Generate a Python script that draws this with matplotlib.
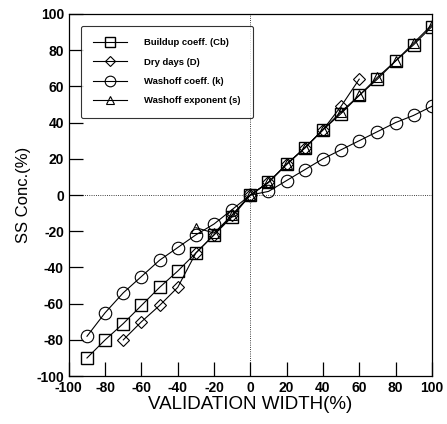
import numpy as np
import matplotlib
matplotlib.use("Agg")
import matplotlib.pyplot as plt

plt.rcParams['font.family'] = ['Liberation Sans', 'DejaVu Sans']
plt.rcParams['axes.unicode_minus'] = False

# data
x_full = [-90, -80, -70, -60, -50, -40, -30, -20, -10, 0, 10, 20, 30, 40, 50, 60, 70, 80, 90, 100]
cb = [-90, -80, -71, -61, -51, -42, -32, -22, -12, 0, 7, 17, 26, 36, 45, 55, 64, 74, 83, 93]
x_dry = [-70, -60, -50, -40, -30, -20, -10, 0, 10, 20, 30, 40, 50, 60]
dry = [-80, -70, -61, -51, -32, -22, -11, 0, 7, 17, 26, 36, 49, 64]
k_vals = [-78, -65, -54, -45, -36, -29, -22, -16, -8, 0, 2, 8, 14, 20, 25, 30, 35, 40, 44, 49]
x_exp = [-30, -20, -10, 0, 10, 20, 30, 40, 50, 60, 70, 80, 90, 100]
s_vals = [-18, -21, -11, 0, 7, 17, 26, 36, 46, 55, 65, 74, 84, 94]

fig = plt.figure(figsize=(4.47, 4.24), dpi=100)
ax = fig.add_axes([0.154, 0.113, 0.812, 0.854])

lw = 0.8
ax.plot(x_full, cb, color='black', lw=lw, marker='s', ms=9, mfc='none', mec='black', mew=1.0,
        label='Buildup coeff. (Cb)')
ax.plot(x_dry, dry, color='black', lw=lw, marker='D', ms=6, mfc='none', mec='black', mew=0.8,
        label='Dry days (D)')
ax.plot(x_full, k_vals, color='black', lw=lw, marker='o', ms=9, mfc='none', mec='black', mew=0.8,
        label='Washoff coeff. (k)')
ax.plot(x_exp, s_vals, color='black', lw=lw, marker='^', ms=7, mfc='none', mec='black', mew=0.8,
        label='Washoff exponent (s)')

ax.axhline(0, color='black', lw=0.6, ls=':')
ax.axvline(0, color='black', lw=0.6, ls=':')

ax.set_xlim(-100, 100)
ax.set_ylim(-100, 100)
ax.set_xticks(np.arange(-100, 101, 20))
ax.set_yticks(np.arange(-100, 101, 20))
ax.tick_params(direction='in', length=10, width=0.9, labelsize=10, top=False, right=False)
for lab in ax.get_xticklabels() + ax.get_yticklabels():
    lab.set_fontweight('bold')
for sp in ax.spines.values():
    sp.set_linewidth(0.9)

ax.set_xlabel('VALIDATION WIDTH(%)', fontsize=13.5, labelpad=1)
ax.set_ylabel('SS Conc.(%)', fontsize=12, labelpad=4)

leg = ax.legend(loc='upper left', bbox_to_anchor=(0.02, 0.98), frameon=True,
                fancybox=True, edgecolor='black', handlelength=3.6, borderpad=1.3,
                labelspacing=1.1, handletextpad=1.8, markerscale=0.85,
                prop={'weight': 'bold', 'size': 6.8})
leg.get_frame().set_linewidth(0.8)

fig.savefig('out.png', dpi=100)
